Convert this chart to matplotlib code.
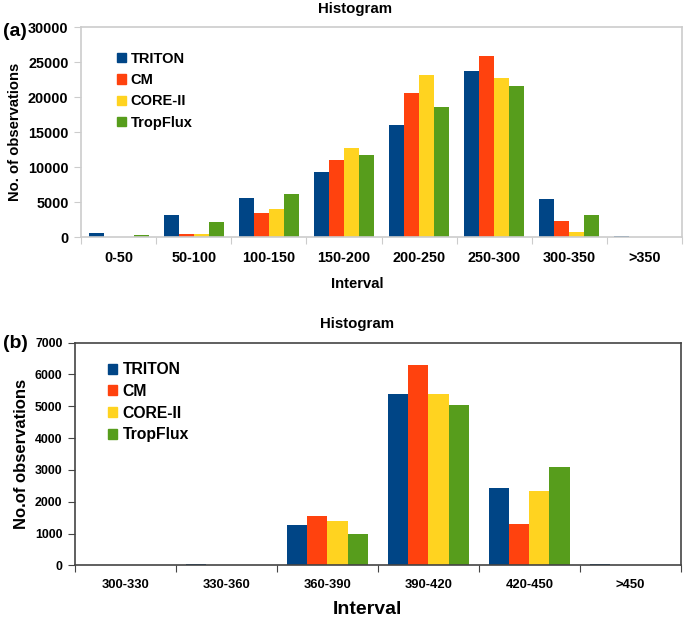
import matplotlib
matplotlib.use("Agg")
import matplotlib.pyplot as plt
import numpy as np
from matplotlib.patches import Patch

plt.rcParams['font.family'] = ['Liberation Sans', 'DejaVu Sans']
plt.rcParams['font.weight'] = 'bold'

series_names = ["TRITON", "CM", "CORE-II", "TropFlux"]
colors = ["#004586", "#ff420e", "#ffd320", "#579d1c"]

cats_a = ["0-50", "50-100", "100-150", "150-200", "200-250", "250-300", "300-350", ">350"]
triton_a = [600, 3100, 5600, 9300, 16000, 23700, 5400, 80]
cm_a = [0, 400, 3500, 11000, 20600, 25900, 2300, 0]
core_a = [0, 400, 4000, 12700, 23100, 22700, 700, 0]
trop_a = [300, 2200, 6200, 11700, 18600, 21600, 3200, 0]
yticks_a = [0, 5000, 10000, 15000, 20000, 25000, 30000]

cats_b = ["300-330", "330-360", "360-390", "390-420", "420-450", ">450"]
triton_b = [0, 40, 1280, 5380, 2440, 30]
cm_b = [0, 20, 1550, 6300, 1290, 0]
core_b = [0, 20, 1400, 5400, 2330, 0]
trop_b = [0, 20, 980, 5030, 3100, 0]
yticks_b = [0, 1000, 2000, 3000, 4000, 5000, 6000, 7000]

W, H = 685, 620
fig = plt.figure(figsize=(W / 100, H / 100), dpi=100)


def draw(ax, cats, data, yticks, spine_col, tick_fs, xtick_fs, leg_fs, ylab, ylab_fs,
         leg_anchor, leg_space):
    n = len(cats)
    bw = 0.2
    x = np.arange(n)
    for k, (vals, c, name) in enumerate(zip(data, colors, series_names)):
        ax.bar(x + 0.1 + bw * k + bw / 2, vals, width=bw, color=c, label=name, linewidth=0)
    ax.set_xlim(0, n)
    ax.set_ylim(yticks[0], yticks[-1])
    ax.set_yticks(yticks)
    ax.set_yticklabels([str(v) for v in yticks], fontsize=tick_fs, fontweight='bold')
    ax.set_xticks(np.arange(n + 1))
    ax.set_xticklabels([])
    ax.set_xticks(x + 0.5, minor=True)
    ax.set_xticklabels(cats, minor=True, fontsize=xtick_fs, fontweight='bold')
    ax.tick_params(axis='x', which='minor', length=0, pad=10)
    ax.tick_params(axis='x', which='major', length=5, color=spine_col, direction='out')
    ax.tick_params(axis='y', length=5, color=spine_col, direction='out', pad=4)
    for s in ax.spines.values():
        s.set_color(spine_col)
        s.set_linewidth(1.2)
    ax.set_ylabel(ylab, fontsize=ylab_fs, fontweight='bold')
    handles = [Patch(color=c, label=nm) for c, nm in zip(colors, series_names)]
    ax.legend(handles=handles, loc='upper left', bbox_to_anchor=leg_anchor,
              frameon=False, handlelength=0.6, handleheight=0.6,
              handletextpad=0.35, labelspacing=leg_space, borderaxespad=0,
              prop={'weight': 'bold', 'size': leg_fs})


ax1 = fig.add_axes([81 / W, 1 - 237 / H, 601 / W, 210 / H])
draw(ax1, cats_a, [triton_a, cm_a, core_a, trop_a], yticks_a, "#cccccc",
     10.4, 10.4, 10.5, "No. of observations", 10.6, (0.05, 0.91), 0.5)

ax2 = fig.add_axes([75 / W, 1 - 565.3 / H, 605.7 / W, 222.6 / H])
draw(ax2, cats_b, [triton_b, cm_b, core_b, trop_b], yticks_b, "#444444",
     8.9, 9.4, 11.3, "No.of observations", 12, (0.044, 0.94), 0.42)

fig.text(355 / W, 1 - 9 / H, "Histogram", fontsize=10.8, fontweight='bold', ha='center', va='center')
fig.text(357 / W, 1 - 324 / H, "Histogram", fontsize=10.8, fontweight='bold', ha='center', va='center')
fig.text(357 / W, 1 - 284 / H, "Interval", fontsize=10.7, fontweight='bold', ha='center', va='center')
fig.text(367 / W, 1 - 610 / H, "Interval", fontsize=14, fontweight='bold', ha='center', va='center')

fig.text(3 / W, 1 - 31 / H, "(a)", fontsize=14, fontweight='bold', va='center', ha='left')
fig.text(3 / W, 1 - 343 / H, "(b)", fontsize=14, fontweight='bold', va='center', ha='left')

fig.savefig("out.png", dpi=100, facecolor='white')
